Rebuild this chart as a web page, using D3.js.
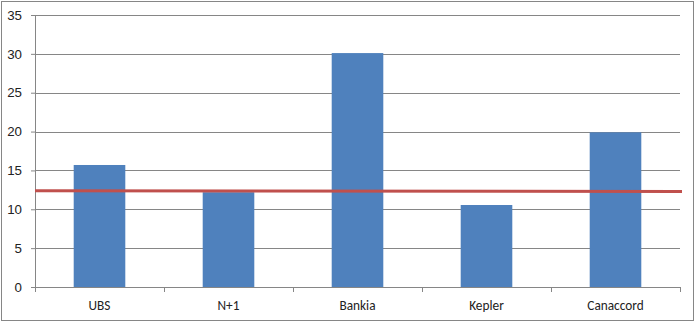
<!DOCTYPE html>
<html>
<head>
<meta charset="utf-8">
<script src="https://cdn.jsdelivr.net/npm/d3@7"></script>
<style>
  body { margin: 0; background: #fff; }
  svg { display: block; font-family: Calibri, Carlito, "Open Sans", "Noto Sans", sans-serif; }
</style>
</head>
<body>
<div id="chart"></div>
<script>
// Data
const categories = ['UBS', 'N+1', 'Bankia', 'Kepler', 'Canaccord']
const values = [15.7, 12.2, 30.1, 10.55, 19.9]
const avgLine = [12.4, 12.3]   // start / end of the red reference line
const yTicks = [0, 5, 10, 15, 20, 25, 30, 35]

// Presentation
const width = 696
const height = 323
const margin = { top: 15, right: 16, bottom: 36, left: 35 }
const chartWidth = width - margin.left - margin.right
const chartHeight = height - margin.top - margin.bottom
const gridColor = '#868686'

const svg = d3.select('#chart').append('svg')
    .attr('width', width)
    .attr('height', height)

// outer frame
svg.append('rect')
    .attr('x', 1.5).attr('y', 1.5)
    .attr('width', 692).attr('height', 319)
    .attr('fill', '#fff')
    .attr('stroke', gridColor)

// Scale
const x = d3.scaleBand()
    .domain(categories)
    .range([0, chartWidth])
    .paddingInner(0.6)
    .paddingOuter(0.3)
const y = d3.scaleLinear()
    .domain([0, 35])
    .range([chartHeight, 0])

const g = svg.append('g')
    .attr('transform', `translate(${margin.left}, ${margin.top})`)

// gridlines
g.append('g').selectAll('line.grid')
    .data(yTicks.filter(d => d > 0))
    .enter().append('line')
    .attr('x1', 0).attr('x2', chartWidth)
    .attr('y1', d => Math.round(y(d)) + 0.5)
    .attr('y2', d => Math.round(y(d)) + 0.5)
    .attr('stroke', gridColor)

// Axis
const yAxis = d3.axisLeft(y).tickValues(yTicks).tickSize(4).tickPadding(9)
g.append('g')
    .attr('class', 'y-axis')
    .call(yAxis)
    .call(a => a.select('.domain').attr('stroke', gridColor).attr('d', `M0.5,${chartHeight}V0`))
    .call(a => a.selectAll('.tick line').attr('stroke', gridColor))
    .call(a => a.selectAll('.tick text').attr('font-size', 13.3).attr('fill', '#222'))

// Bars
g.append('g').selectAll('rect.bar')
    .data(values)
    .enter().append('rect')
    .attr('class', 'bar')
    .attr('x', (_, i) => x(categories[i]))
    .attr('y', d => y(d))
    .attr('width', x.bandwidth())
    .attr('height', d => chartHeight - y(d))
    .attr('fill', '#4F81BD')

// x axis
const step = chartWidth / categories.length
const xAxis = g.append('g')
    .attr('transform', `translate(0, ${chartHeight})`)
xAxis.append('line')
    .attr('x1', 0).attr('x2', chartWidth)
    .attr('y1', 0.5).attr('y2', 0.5)
    .attr('stroke', gridColor)
xAxis.selectAll('line.tick')
    .data(d3.range(categories.length + 1))
    .enter().append('line')
    .attr('x1', i => Math.round(i * step) + 0.5)
    .attr('x2', i => Math.round(i * step) + 0.5)
    .attr('y1', 0).attr('y2', 5)
    .attr('stroke', gridColor)
xAxis.selectAll('text')
    .data(categories)
    .enter().append('text')
    .attr('x', d => x(d) + x.bandwidth() / 2)
    .attr('y', 23)
    .attr('text-anchor', 'middle')
    .attr('font-size', 13.3)
    .attr('fill', '#222')
    .text(d => d)

// red reference line
const lineX = d3.scaleLinear().domain([0, avgLine.length - 1]).range([0, chartWidth + 2])
g.append('path')
    .datum(avgLine)
    .attr('d', d3.line().x((_, i) => lineX(i)).y(d => y(d)))
    .attr('fill', 'none')
    .attr('stroke', '#C0504D')
    .attr('stroke-width', 3)
</script>
</body>
</html>
